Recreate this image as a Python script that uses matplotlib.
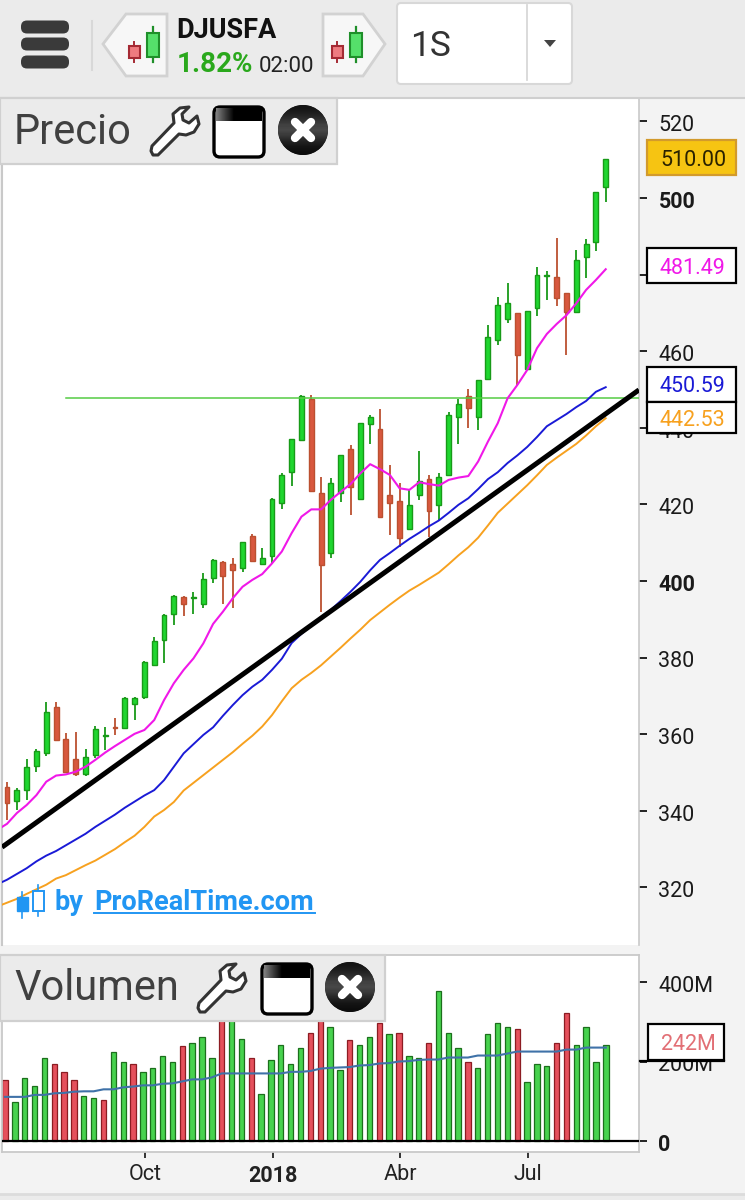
import matplotlib
matplotlib.use("Agg")
import matplotlib.pyplot as plt
import numpy as np
from matplotlib.patches import Rectangle, FancyBboxPatch, Circle, Polygon
from matplotlib.transforms import ScaledTranslation

plt.rcParams['font.family'] = ['Roboto', 'DejaVu Sans']

# ---- data ----
opens = [346.3,342.6,345.4,351.7,355.2,367.0,358.7,353.5,349.6,354.6,359.5,361.9,361.5,367.8,369.6,378.1,384.6,391.5,395.8,395.6,394.0,400.7,405.0,404.5,403.3,411.8,404.4,406.4,420.3,428.5,436.8,447.5,423.1,407.4,422.9,434.5,421.3,440.9,439.6,422.5,421.0,413.7,422.4,426.7,419.8,427.6,442.9,448.4,442.9,452.8,463.0,468.3,470.0,455.4,471.4,479.7,479.3,475.1,470.3,484.7,488.4,502.8]
closes = [342.0,345.4,351.5,355.6,365.9,358.4,350.2,349.6,354.0,361.3,359.7,361.7,369.4,369.4,378.8,384.4,391.1,396.2,394.0,395.8,400.4,405.5,401.3,402.8,410.1,405.3,406.0,421.5,427.8,437.0,448.3,423.5,404.3,425.7,432.9,424.6,441.2,442.7,416.8,420.3,411.1,419.9,426.1,418.3,427.2,443.3,446.2,445.1,452.5,463.8,472.0,472.5,459.0,470.5,479.8,479.9,474.0,470.3,483.8,488.0,501.5,510.2]
highs = [347.4,345.9,353.5,356.1,368.5,368.5,360.2,360.7,356.1,362.2,361.8,364.3,369.6,369.6,379.0,385.5,391.3,396.4,396.0,397.2,402.0,405.7,405.2,406.1,410.3,412.3,408.7,421.7,428.3,437.2,448.5,448.6,427.2,426.8,432.9,435.5,441.2,443.3,444.8,430.3,425.7,423.8,434.0,427.7,428.1,444.2,447.4,450.0,452.5,466.8,474.2,477.7,470.0,470.5,481.9,480.9,489.6,475.1,486.4,489.2,501.5,510.2]
lows = [337.6,340.2,342.8,350.1,354.2,358.4,350.2,349.2,349.2,353.7,355.9,359.8,361.3,363.6,369.1,377.9,378.5,388.4,390.9,391.4,393.0,399.6,393.9,392.9,402.3,405.1,404.2,404.8,418.7,424.8,436.6,423.5,391.9,405.9,420.7,417.2,421.3,435.7,416.8,412.0,409.0,413.7,421.2,411.6,415.9,427.6,435.7,439.9,439.4,452.8,461.6,467.3,451.2,455.4,469.3,473.4,471.8,459.0,470.3,479.0,486.2,499.0]

ma_fast = [335.0,336.6,339.4,341.5,344.1,347.6,349.2,349.5,350.2,351.5,353.3,355.2,356.9,358.5,360.1,361.1,363.7,368.9,373.3,376.8,379.8,383.7,388.8,392.0,395.5,398.5,400.3,401.8,404.6,407.7,412.5,416.8,418.7,418.7,421.2,423.3,425.3,428.1,430.5,429.2,427.7,424.2,423.8,425.8,425.3,424.9,426.4,427.0,427.4,431.2,436.4,441.2,447.7,451.2,455.1,460.8,464.5,467.1,469.4,472.5,476.0,478.6,481.4]
ma_mid = [320.8,322.0,323.5,325.0,326.8,328.3,329.5,331.0,332.5,334.0,335.8,337.4,339.0,340.8,342.4,344.0,345.4,348.0,351.5,355.0,357.4,359.8,361.8,364.8,367.6,370.2,372.4,374.2,376.8,379.7,383.8,386.2,388.3,390.6,392.5,394.8,397.2,399.8,402.8,405.5,407.3,409.2,411.0,412.6,414.3,415.8,417.8,419.9,421.6,424.0,426.6,428.4,430.8,432.8,435.0,437.6,440.4,442.0,443.6,445.4,447.0,449.4,450.6]
ma_slow = [315.0,316.0,317.0,318.3,319.5,320.7,322.3,323.2,324.5,325.8,327.0,328.5,330.0,331.8,333.5,335.8,338.5,340.2,342.3,345.3,347.3,349.3,351.3,353.3,355.3,357.5,359.6,362.0,365.0,368.6,372.0,374.2,376.0,378.0,380.3,382.6,385.0,387.3,389.8,391.8,393.8,395.7,397.5,399.0,400.6,402.2,404.4,406.7,408.8,411.3,414.5,417.8,420.2,422.6,425.0,427.6,430.3,432.2,434.0,435.8,438.0,440.4,442.5]

trend_vals = [330.5, 449.9]
level_val = 447.8

volume = [153,99,158,138,208,193,174,153,113,108,104,223,198,193,174,183,213,198,238,247,262,208,320,345,257,208,118,203,242,193,233,272,320,288,179,253,242,262,298,268,272,213,208,247,377,272,233,198,183,268,298,288,283,148,193,188,247,323,242,288,198,242]
vol_dir = ['r','g','g','g','g','r','r','r','g','g','r','g','g','r','g','g','g','g','r','g','g','g','r','g','g','r','g','g','g','g','g','r','r','g','g','r','g','g','r','g','r','g','g','r','g','g','g','r','g','g','g','g','r','g','g','g','r','r','g','g','g','g']
vol_ma = [111,111,111,116,116,120,121,124,125,125,130,130,135,137,140,140,144,145,150,155,155,160,170,170,170,170,170,170,170,174,174,176,182,184,185,186,190,191,195,196,200,201,204,205,205,210,210,210,215,215,215,220,225,225,225,225,225,230,230,235,235,235]

price_ticks = [320,340,360,380,400,420,440,460,480,500,520]
price_tick_labels = ['320','340','360','380','400','420','440','460','','500','520']
vol_ticks = [0,200,400]
vol_tick_labels = ['0','200M','400M']
date_pos = [14.2,27.2,40.1,53.1]
date_labels = ['Oct','2018','Abr','Jul']
last_labels = ['510.00','481.49','450.59','442.53']

W, H = 745, 1200
fig = plt.figure(figsize=(W/100, H/100), dpi=100, facecolor='#f3f3f3')
def box(x0, y0, x1, y1):
    return [x0/W, 1-y1/H, (x1-x0)/W, (y1-y0)/H]
shift_down = ScaledTranslation(0, -1.8/100, fig.dpi_scale_trans)

# ---- price panel ----
ax = fig.add_axes(box(2, 98, 639, 945), facecolor='white')
idx = np.arange(len(opens))
ax.set_xlim((2-7)/9.815, (639-7)/9.815)
ax.set_ylim(500-(945-198)/3.83, 500+(198-98)/3.83)
G_F, G_E, R_F, R_E = '#1fd62f', '#189a18', '#d8583e', '#bb5030'
for i in idx:
    up = closes[i] >= opens[i]
    f, e = (G_F, G_E) if up else (R_F, R_E)
    ax.vlines(i, lows[i], highs[i], color=e, lw=1.3, zorder=2)
    b, t = min(opens[i], closes[i]), max(opens[i], closes[i])
    ax.bar(i, t-b, bottom=b, width=0.5, facecolor=f, edgecolor=e, lw=1.0, zorder=3)
xm = np.arange(-1, 62)
ax.plot(xm, ma_slow, color='#f7a11f', lw=1.4, zorder=4)
ax.plot(xm, ma_mid, color='#1a1ad6', lw=1.4, zorder=4)
ax.plot(ax.get_xlim(), trend_vals, color='black', lw=3.6, zorder=4, solid_capstyle='butt')
ax.plot(xm, ma_fast, color='#f018e8', lw=1.5, zorder=5)
ax.plot([(66-7)/9.815, ax.get_xlim()[1]], [level_val, level_val], color='#55cc44', lw=1.1, zorder=3)
ax.set_xticks([])
ax.yaxis.tick_right()
ax.set_yticks(price_ticks)
ax.tick_params(axis='y', length=6, width=1.4, color='#222222', pad=8.0)
ax.set_yticklabels(price_tick_labels, fontsize=15.5, color='#1a1a1a', va='center_baseline')
for lab, t in zip(ax.get_yticklabels(), price_ticks):
    if t in (400, 500):
        lab.set_fontweight('bold')
    lab.set_transform(lab.get_transform() + shift_down)
for s in ('top', 'bottom'):
    ax.spines[s].set_visible(False)
ax.spines['left'].set_color('#c9c9c9'); ax.spines['right'].set_color('#c9c9c9')
ax.spines['left'].set_linewidth(1.5); ax.spines['right'].set_linewidth(1.2)

# ---- volume panel ----
vx = fig.add_axes(box(2, 955, 639, 1152), facecolor='white')
vx.set_xlim((2-5)/9.85, (639-5)/9.85)
vx.set_ylim(-(1152-1141)/0.3975, (1141-955)/0.3975)
vi = np.arange(len(volume))
vf = ['#47d24e' if c == 'g' else '#e5505c' for c in vol_dir]
ve = ['#1c6f1c' if c == 'g' else '#8c1c22' for c in vol_dir]
vx.bar(vi, volume, width=0.54, color=vf, edgecolor=ve, lw=0.9, zorder=2)
vx.plot(vi, vol_ma, color='#3f72a8', lw=1.5, zorder=3)
vx.axhline(0, color='black', lw=1.6, zorder=4)
vx.yaxis.tick_right()
vx.set_yticks(vol_ticks)
vx.tick_params(axis='y', length=6, width=1.4, color='#222222', pad=8.0)
vx.set_yticklabels(vol_tick_labels, fontsize=15.5, color='#1a1a1a', va='center_baseline')
vx.get_yticklabels()[0].set_fontweight('bold')
for lab in vx.get_yticklabels():
    lab.set_transform(lab.get_transform() + shift_down)
vx.set_xticks(date_pos)
vx.set_xticklabels(date_labels, fontsize=15.5, color='#222222')
vx.get_xticklabels()[1].set_fontweight('bold')
vx.tick_params(axis='x', length=4, width=1.4, color='#333333', pad=5, direction='out')
for s in vx.spines.values():
    s.set_color('#c9c9c9'); s.set_linewidth(1.3)

# ---- interface overlay in pixel coordinates ----
ov = fig.add_axes([0, 0, 1, 1], facecolor='none', zorder=10)

ov.add_patch(Rectangle((0, 0), W, 97, fc='#ebebeb', ec='none'))
ov.plot([0, W], [97.5, 97.5], color='#cfcfcf', lw=1.5)
ov.plot([0, W], [1193.5, 1193.5], color='#dcdcdc', lw=2)
ov.add_patch(Rectangle((0, 1194), W, 6, fc='#ebebeb', ec='none'))

def rrect(x, y, w, h, r, fc, ec='none', lw=0, z=3):
    p = FancyBboxPatch((x+r, y+r), w-2*r, h-2*r, boxstyle=f"round,pad={r}", fc=fc, ec=ec, lw=lw, zorder=z)
    ov.add_patch(p)
    return p

# hamburger
for y in (27, 44, 62):
    rrect(21, y-6.5, 48, 13, 6, '#3a3a3a')
ov.plot([92, 92], [21, 70], color='#d8d8d8', lw=1.5)

def mini_candles(cx):
    ov.plot([cx-10, cx-10], [42, 62], color='#a52a34', lw=1.4, zorder=4)
    ov.add_patch(Rectangle((cx-15.5, 46), 11, 12, fc='#ee7b80', ec='#a52a34', lw=1.5, zorder=5))
    ov.plot([cx+8.5, cx+8.5], [27, 62], color='#1f8f2a', lw=1.6, zorder=4)
    ov.add_patch(Rectangle((cx+2.5, 33), 12, 24, fc='#55e06a', ec='#1f8f2a', lw=1.5, zorder=5))

ov.add_patch(Polygon([(103, 44), (126, 14), (167, 14), (167, 76), (126, 76)], closed=True, fc='#f7f7f7', ec='#d2d2d2', lw=2, zorder=3))
mini_candles(144)
ov.add_patch(Polygon([(323, 14), (363, 14), (385, 44), (363, 76), (323, 76)], closed=True, fc='#f7f7f7', ec='#d2d2d2', lw=2, zorder=3))
mini_candles(347)

ov.text(176, 30, 'DJUSFA', fontsize=19.5, fontweight='bold', color='#111111', va='center', ha='left')
ov.text(177, 65, '1.82%', fontsize=20, fontweight='bold', color='#2aa81c', va='center', ha='left')
ov.text(259, 66, '02:00', fontsize=16, color='#222222', va='center', ha='left')

rrect(397, 3, 175, 81, 4, 'white', '#d8d8d8', 1.5)
ov.plot([527, 527], [5, 80], color='#d8d8d8', lw=1.3, zorder=4)
ov.text(410, 46, '1S', fontsize=25.5, color='#333333', va='center', ha='left', zorder=4)
ov.add_patch(Polygon([(544, 40), (556, 40), (550, 47)], closed=True, fc='#444444', ec='none', zorder=4))

WR = [(2,40),(24,17),(23,8),(30,2),(39,1),(32,8),(33,14),(39,17),(47,10),(49,18),(44,26),(36,29),(29,28),(8,49),(3,49),(1,45)]
band = np.concatenate([np.linspace(0.5, 0.0, 20), np.zeros(30)])[None, :]
shade = np.array([0.08, 0.12, 0.18, 0.25, 0.28, 0.22, 0.14, 0.08, 0.05])[:, None]

def tool_strip(x0, y0, x1, y1, title, tx, fs, wx, bx, cx):
    ov.add_patch(Rectangle((x0, y0), x1-x0, y1-y0, fc='#ebebeb', ec='#d0d0d0', lw=1.6, zorder=6))
    ym = (y0+y1)/2
    ov.text(tx, ym+1, title, fontsize=fs, color='#404040', va='center', ha='left', zorder=7)
    pts = [(wx+a, ym-25+b) for a, b in WR]
    ov.add_patch(Polygon(pts, closed=True, fc='white', ec='#333333', lw=2.2, joinstyle='round', zorder=7))
    rrect(bx, ym-24, 50, 50, 6, 'white', 'black', 2.4, z=7)
    ov.imshow(band, cmap='gray', vmin=0, vmax=1, aspect='auto', zorder=8,
              extent=(bx+2, bx+48, ym-10, ym-23))
    c = Circle((cx, ym-1), 25, fc='#222222', ec='none', zorder=7)
    ov.add_patch(c)
    im = ov.imshow(shade, cmap='gray', vmin=0, vmax=1, aspect='auto', zorder=7.5,
                   extent=(cx-25, cx+25, ym+24, ym-26), interpolation='bilinear')
    im.set_clip_path(c)
    ov.plot([cx-8, cx+8], [ym-9, ym+7], color='white', lw=6, solid_capstyle='round', zorder=8)
    ov.plot([cx-8, cx+8], [ym+7, ym-9], color='white', lw=6, solid_capstyle='round', zorder=8)

tool_strip(0, 98, 337, 164, 'Precio', 14, 30, 150, 214, 303)
tool_strip(0, 955, 385, 1021, 'Volumen', 14, 30, 197, 262, 350)

# watermark
ov.add_patch(Rectangle((17, 897), 11, 14, fc='#2196f3', ec='#2196f3', lw=1, zorder=6))
ov.plot([22, 22], [892, 918], color='#2196f3', lw=1.2, zorder=6)
ov.add_patch(Rectangle((33, 891), 11, 20, fc='white', ec='#2196f3', lw=1.4, zorder=6))
ov.plot([38, 38], [885, 916], color='#2196f3', lw=1.2, zorder=5)
ov.text(55, 902, 'by', fontsize=19.5, fontweight='bold', color='#2196f3', va='center', ha='left', zorder=6)
ov.text(94, 902, 'ProRealTime.com', fontsize=19.5, fontweight='bold', color='#2196f3', va='center', ha='left', zorder=6)
ov.plot([94, 315], [913, 913], color='#2196f3', lw=1.4, zorder=6)

# last value labels
def tag(y0, y1, text, tc, fc='white', ec='black', lw=1.6, x0=647, x1=736, fs=15.5):
    ov.add_patch(Rectangle((x0, y0), x1-x0, y1-y0, fc=fc, ec=ec, lw=lw, zorder=6))
    ov.text(x0+13, (y0+y1)/2, text, fontsize=fs, color=tc, va='center_baseline', ha='left', zorder=7)

tag(140, 175, last_labels[0], '#2a2200', fc='#f6c412', ec='#d29a2c')
tag(248, 283, last_labels[1], '#f018e8')
tag(367, 402, last_labels[2], '#1a1ad6')
tag(402, 433, last_labels[3], '#f7a11f')
tag(1024, 1060, '242M', '#e26f75', x0=648, x1=724)
ov.plot([640, 724], [1061, 1061], color='black', lw=1.6, zorder=7)

ov.set_xlim(0, W); ov.set_ylim(H, 0); ov.axis('off')

fig.savefig('out.png', dpi=100, facecolor=fig.get_facecolor())
